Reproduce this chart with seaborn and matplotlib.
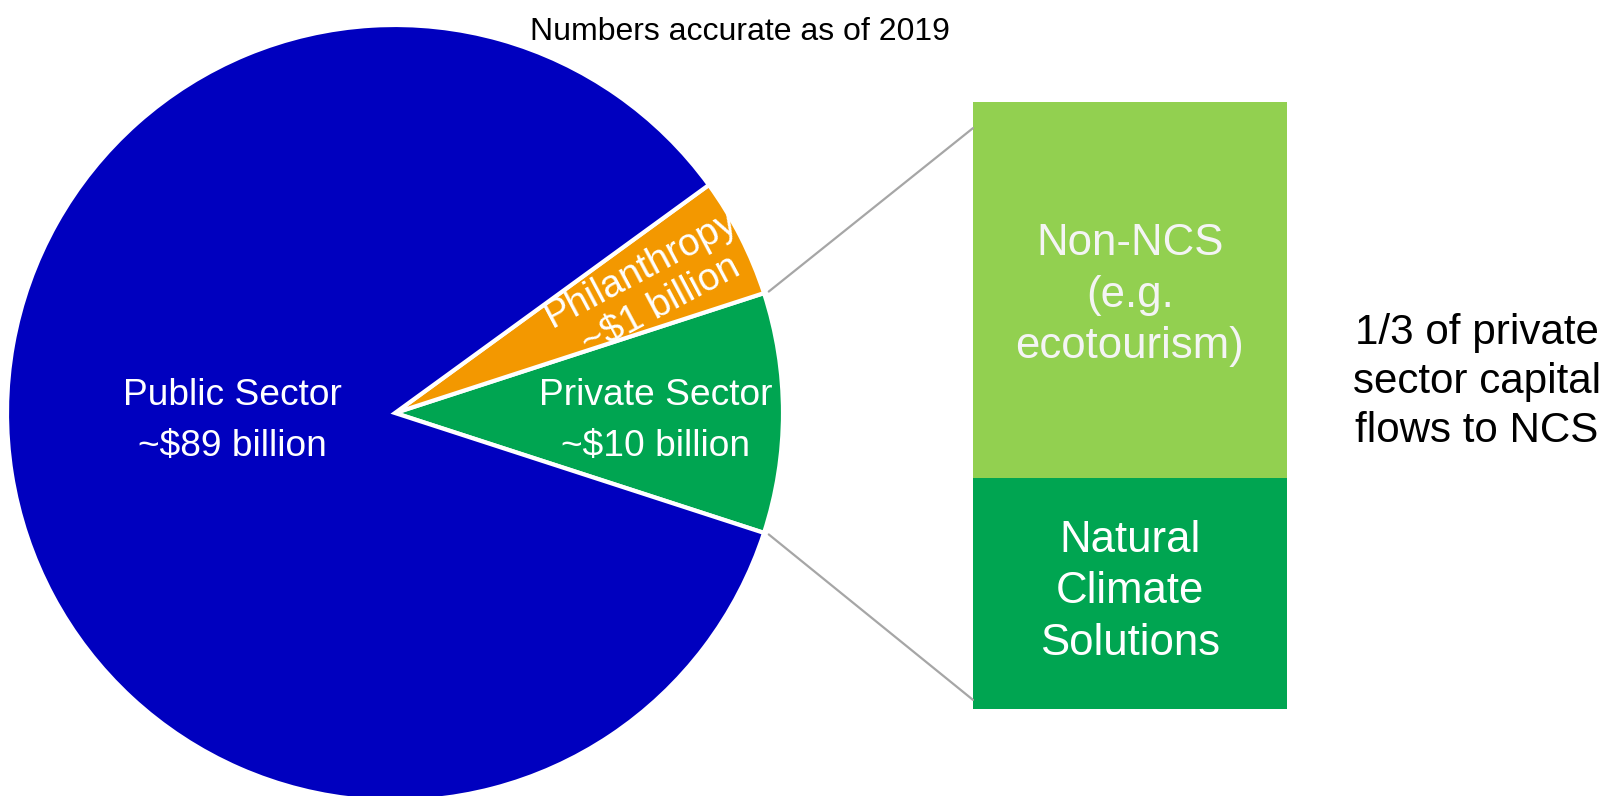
import numpy as np
import matplotlib
matplotlib.use("Agg")
import matplotlib.pyplot as plt
from matplotlib.patches import ConnectionPatch
import seaborn as sns

# ---- data ----
pie_labels = ["Private Sector\n~$10 billion", "Philanthropy\n~$1 billion", "Public Sector\n~$89 billion"]
pie_values = [10, 5, 85]          # drawn wedge shares
pie_colors = ["#00A551", "#F39800", "#0000BF"]

bar_category = ["Private Sector"]
seg_labels = ["Natural\nClimate\nSolutions", "Non-NCS\n(e.g.\necotourism)"]
seg_values = [38, 62]             # bottom -> top
seg_colors = ["#00A551", "#92D050"]

title_text = "Numbers accurate as of 2019"
side_text = "1/3 of private\nsector capital\nflows to NCS"

# ---- figure ----
sns.set_theme(style="white")
plt.rcParams["font.family"] = ["Liberation Sans", "DejaVu Sans"]

W, H = 1608, 796
fig = plt.figure(figsize=(W / 100, H / 100), dpi=100)
ax = fig.add_axes([0, 0, 1, 1])

def P(x, y):
    return x, H - y

cx, cy = P(395, 413)
R = 388
start = -18
wedges, _ = ax.pie(pie_values, colors=pie_colors, startangle=start, counterclock=True,
                   center=(cx, cy), radius=R,
                   wedgeprops=dict(edgecolor="white", linewidth=3))
ax.set_xlim(0, W)
ax.set_ylim(0, H)
ax.set_aspect("equal")
ax.axis("off")

# pie labels
ax.text(*P(232, 421), pie_labels[2], color="white", fontsize=26.7, ha="center", va="center",
        linespacing=1.56)
ax.text(*P(656, 421), pie_labels[0], color="white", fontsize=26.7, ha="center", va="center",
        linespacing=1.56)
th1, th2 = wedges[1].theta1, wedges[1].theta2
mid_deg = (th1 + th2) / 2
lab_ang = np.deg2rad(mid_deg - 0.8)
ax.text(cx + 0.735 * R * np.cos(lab_ang), cy + 0.735 * R * np.sin(lab_ang), pie_labels[1],
        color="white", fontsize=27.5, ha="center", va="center", rotation=mid_deg + 1,
        rotation_mode="anchor", linespacing=1.2)

ax.text(*P(740, 32), title_text, fontsize=23, ha="center", va="center", color="black")
ax.text(*P(1477, 382), side_text, fontsize=30.3, ha="center", va="center", color="black",
        linespacing=1.28)

# ---- stacked bar ----
bx0, by0, bx1, by1 = 973, 102, 1287, 709
bar_ax = fig.add_axes([bx0 / W, (H - by1) / H, (bx1 - bx0) / W, (by1 - by0) / H])
total = sum(seg_values)
sns.barplot(x=bar_category, y=[total], color=seg_colors[1], saturation=1, width=1,
            linewidth=0, ax=bar_ax)
sns.barplot(x=bar_category, y=[seg_values[0]], color=seg_colors[0], saturation=1, width=1,
            linewidth=0, ax=bar_ax)
bar_ax.set_xlim(-0.5, 0.5)
bar_ax.set_ylim(0, total)
bar_ax.axis("off")
bar_ax.text(0, seg_values[0] / 2 + 0.3, seg_labels[0], color="white", fontsize=31.5,
            ha="center", va="center", linespacing=1.33)
bar_ax.text(0, seg_values[0] + seg_values[1] / 2 - 0.85, seg_labels[1], color="#F4F4F4",
            fontsize=31.5, ha="center", va="center", linespacing=1.33)

# ---- connectors ----
a_top = np.deg2rad(wedges[0].theta2)
a_bot = np.deg2rad(wedges[0].theta1)
for ang, yb in [(a_top, 95.7), (a_bot, 1.5)]:
    con = ConnectionPatch(xyA=(cx + (R + 5) * np.cos(ang), cy + (R + 5) * np.sin(ang)),
                          coordsA=ax.transData,
                          xyB=(-0.5, yb), coordsB=bar_ax.transData,
                          color="#A6A6A6", linewidth=1.6)
    fig.add_artist(con)

fig.savefig("out.png", dpi=100, facecolor="white")
